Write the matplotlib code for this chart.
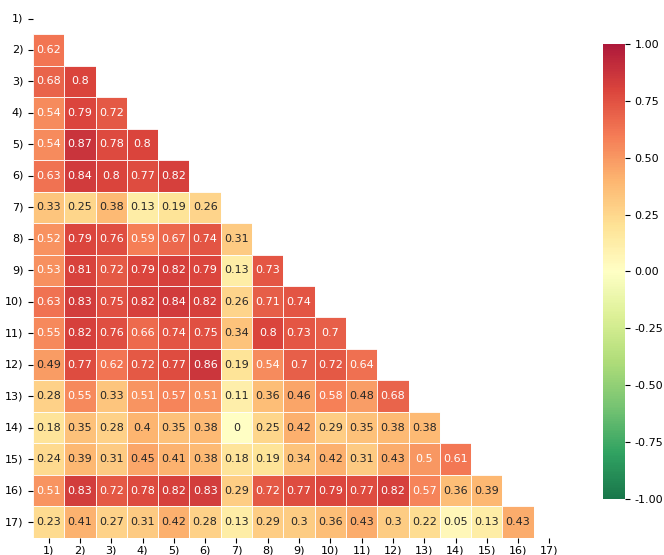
import numpy as np
import matplotlib
matplotlib.use('Agg')
import matplotlib.pyplot as plt
import seaborn as sns

# item labels
labels = [f'{i})' for i in range(1, 18)]

# lower triangle of the correlation matrix, row by row (rows 2..17)
lower_rows = [
    [0.62],
    [0.68, 0.8],
    [0.54, 0.79, 0.72],
    [0.54, 0.87, 0.78, 0.8],
    [0.63, 0.84, 0.8, 0.77, 0.82],
    [0.33, 0.25, 0.38, 0.13, 0.19, 0.26],
    [0.52, 0.79, 0.76, 0.59, 0.67, 0.74, 0.31],
    [0.53, 0.81, 0.72, 0.79, 0.82, 0.79, 0.13, 0.73],
    [0.63, 0.83, 0.75, 0.82, 0.84, 0.82, 0.26, 0.71, 0.74],
    [0.55, 0.82, 0.76, 0.66, 0.74, 0.75, 0.34, 0.8, 0.73, 0.7],
    [0.49, 0.77, 0.62, 0.72, 0.77, 0.86, 0.19, 0.54, 0.7, 0.72, 0.64],
    [0.28, 0.55, 0.33, 0.51, 0.57, 0.51, 0.11, 0.36, 0.46, 0.58, 0.48, 0.68],
    [0.18, 0.35, 0.28, 0.4, 0.35, 0.38, 0, 0.25, 0.42, 0.29, 0.35, 0.38, 0.38],
    [0.24, 0.39, 0.31, 0.45, 0.41, 0.38, 0.18, 0.19, 0.34, 0.42, 0.31, 0.43, 0.5, 0.61],
    [0.51, 0.83, 0.72, 0.78, 0.82, 0.83, 0.29, 0.72, 0.77, 0.79, 0.77, 0.82, 0.57, 0.36, 0.39],
    [0.23, 0.41, 0.27, 0.31, 0.42, 0.28, 0.13, 0.29, 0.3, 0.36, 0.43, 0.3, 0.22, 0.05, 0.13, 0.43],
]

n = len(labels)
corr = np.eye(n)
for i, row in enumerate(lower_rows, start=1):
    for j, v in enumerate(row):
        corr[i, j] = v
        corr[j, i] = v

# hide diagonal and upper half
mask = np.triu(np.ones_like(corr, dtype=bool))

fig = plt.figure(figsize=(6.64, 5.55), dpi=100)
ax = fig.add_axes([0.0497, 0.031, 0.8013, 0.964])
cax = fig.add_axes([0.908, 0.101, 0.033, 0.820])

sns.heatmap(corr, mask=mask, cmap='RdYlGn_r', vmin=-1, vmax=1, alpha=0.9,
            annot=True, annot_kws={'size': 8}, linewidths=0.5, linecolor='white',
            xticklabels=labels, yticklabels=labels, ax=ax, cbar_ax=cax,
            cbar_kws={'ticks': [-1, -0.75, -0.5, -0.25, 0, 0.25, 0.5, 0.75, 1]})

ax.tick_params(labelsize=8)
ax.tick_params(axis='x', pad=2)
ax.set_xticklabels(labels, rotation=0)
ax.set_yticklabels(labels, rotation=0)
cax.tick_params(labelsize=8)
cax.yaxis.set_major_formatter(matplotlib.ticker.FormatStrFormatter('%.2f'))

fig.savefig('out.png', dpi=100)
